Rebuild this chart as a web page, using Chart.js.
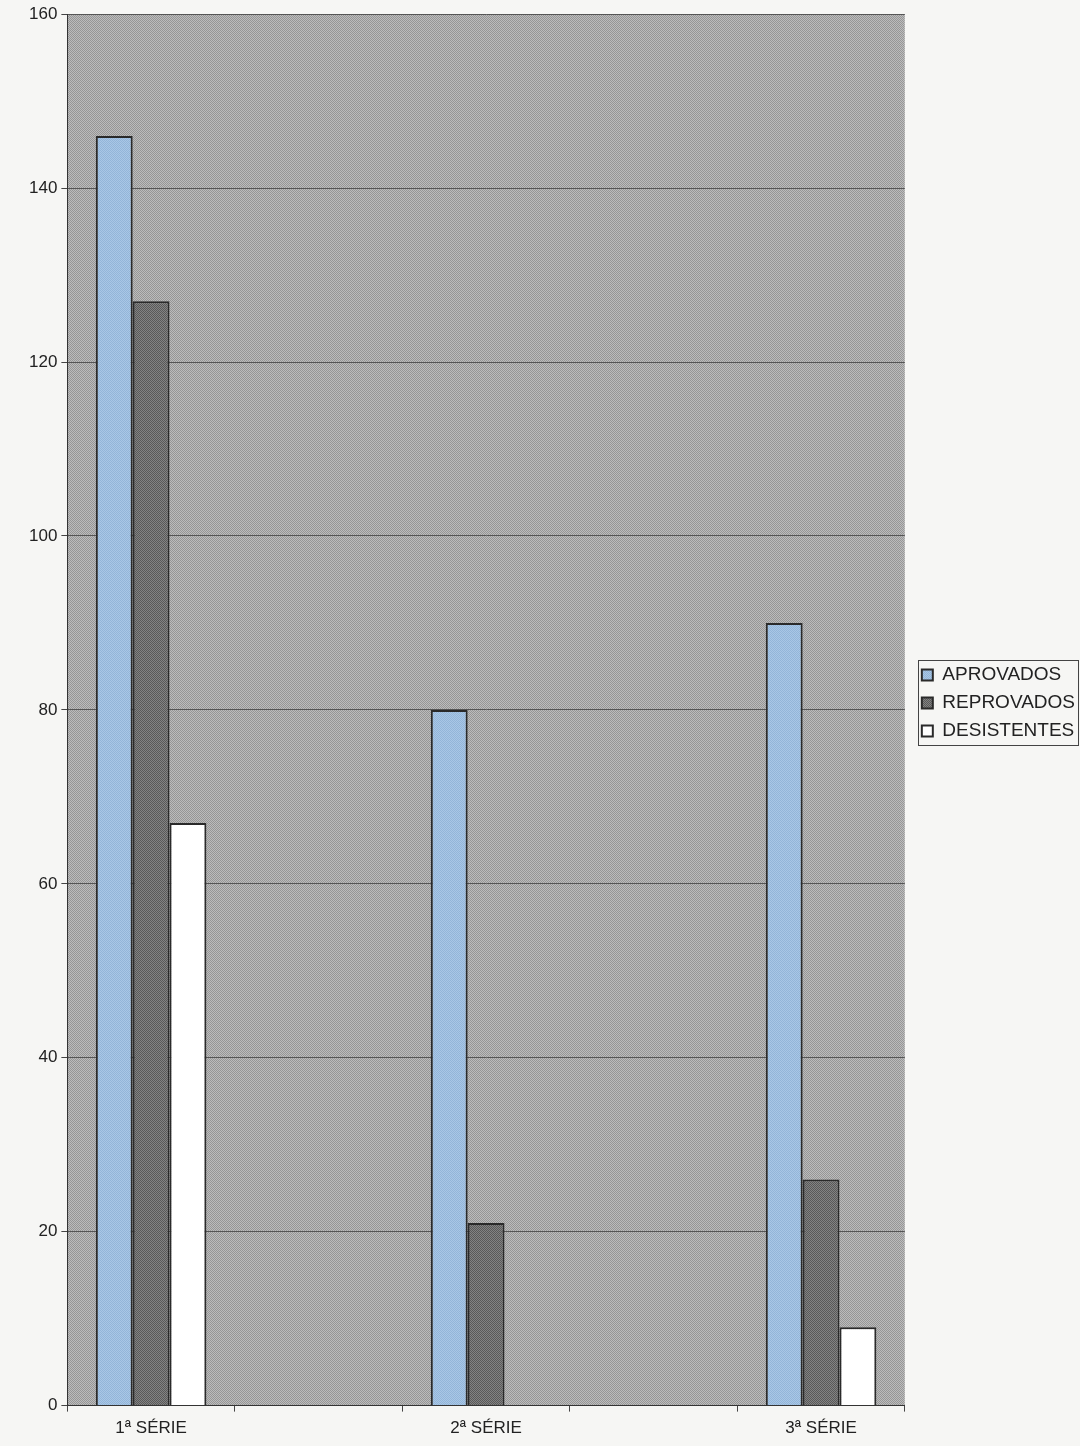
<!DOCTYPE html>
<html>
<head>
<meta charset="utf-8">
<script src="https://cdn.jsdelivr.net/npm/chart.js@4.4.1/dist/chart.umd.min.js"></script>
<style>
  html, body { margin: 0; padding: 0; background: #f6f6f4; }
  #wrap { width: 1080px; height: 1446px; }
</style>
</head>
<body>
<div id="wrap"><canvas id="serieChart" width="1080" height="1446"></canvas></div>
<script>
// categories (the empty ones are the gaps between the groups)
var categories = ['1ª SÉRIE', '', '2ª SÉRIE', '', '3ª SÉRIE'];
var aprovados = [146, null, 80, null, 90];
var reprovados = [127, null, 21, null, 26];
var desistentes = [67, null, 0, null, 9];
var yTicks = [0, 20, 40, 60, 80, 100, 120, 140, 160];

// small checker pattern, looks like the dithered print
function checker(a, b) {
    var c = document.createElement('canvas');
    c.width = 2; c.height = 2;
    var x = c.getContext('2d');
    x.fillStyle = a; x.fillRect(0, 0, 2, 2);
    x.fillStyle = b; x.fillRect(0, 0, 1, 1); x.fillRect(1, 1, 1, 1);
    return x.createPattern(c, 'repeat');
}

var ctx = document.getElementById('serieChart').getContext('2d');
var plotBg = checker('#bcbcbc', '#969696');
var blueFill = checker('#a9c7e6', '#93b5d8');
var grayFill = checker('#838383', '#595959');

// fill plot area before the grid is drawn
var plotBackground = {
    id: 'plotBackground',
    beforeDraw: function (chart) {
        var a = chart.chartArea;
        chart.ctx.save();
        chart.ctx.fillStyle = plotBg;
        chart.ctx.fillRect(a.left, a.top, a.right - a.left, a.bottom - a.top);
        chart.ctx.restore();
    }
};

// nudge legend a bit right and up, hit boxes get adjusted afterwards
var legendNudge = {
    id: 'legendNudge',
    afterLayout: function (chart) {
        var lg = chart.legend;
        lg.left += 8; lg.right += 8;
        lg.top -= 7; lg.bottom -= 7;
    }
};

// thin frame round the legend like the original
var legendFrame = {
    id: 'legendFrame',
    afterDraw: function (chart) {
        var lg = chart.legend;
        if (!lg || !lg.legendHitBoxes.length) return;
        var boxes = lg.legendHitBoxes;
        var left = Math.min.apply(null, boxes.map(function (b) { return b.left; })) - 4;
        var top = boxes[0].top - 5;
        var right = Math.max.apply(null, boxes.map(function (b) { return b.left + b.width; })) + 3;
        var bottom = boxes[boxes.length - 1].top + boxes[boxes.length - 1].height + 5;
        var c = chart.ctx;
        c.save();
        c.strokeStyle = '#444';
        c.lineWidth = 1;
        c.strokeRect(Math.round(left) + 0.5, Math.round(top) + 0.5, Math.round(right - left), Math.round(bottom - top));
        c.restore();
    }
};

var fontFamily = "Arial, 'Liberation Sans', sans-serif";

var myChart = new Chart(ctx, {
    type: 'bar',
    plugins: [plotBackground, legendNudge, legendFrame],
    data: {
        labels: categories,
        datasets: [{
            label: 'APROVADOS',
            data: aprovados,
            backgroundColor: blueFill,
            borderColor: '#2a2a2a',
            borderWidth: 2
        }, {
            label: 'REPROVADOS',
            data: reprovados,
            backgroundColor: grayFill,
            borderColor: '#2a2a2a',
            borderWidth: 2
        }, {
            label: 'DESISTENTES',
            data: desistentes,
            backgroundColor: '#ffffff',
            borderColor: '#2a2a2a',
            borderWidth: 2
        }]
    },
    options: {
        responsive: false,
        animation: false,
        devicePixelRatio: 1,
        layout: {
            padding: { left: 25, top: 10, right: 3, bottom: 0 }
        },
        datasets: {
            bar: {
                categoryPercentage: 0.66,
                barPercentage: 1.0
            }
        },
        scales: {
            x: {
                grid: {
                    drawOnChartArea: false,
                    drawTicks: true,
                    tickLength: 6,
                    tickColor: '#444'
                },
                border: { color: '#333', width: 1 },
                ticks: {
                    color: '#222',
                    font: { family: fontFamily, size: 17 },
                    maxRotation: 0,
                    autoSkip: false,
                    padding: 7
                }
            },
            y: {
                min: 0,
                max: 160,
                afterBuildTicks: function (axis) {
                    axis.ticks = yTicks.map(function (v) { return { value: v }; });
                },
                grid: {
                    color: '#555555',
                    lineWidth: 1,
                    tickLength: 6,
                    tickColor: '#444'
                },
                border: { color: '#333', width: 1 },
                ticks: {
                    color: '#222',
                    font: { family: fontFamily, size: 17 },
                    padding: 4
                }
            }
        },
        plugins: {
            legend: {
                display: true,
                position: 'right',
                align: 'center',
                fullSize: false,
                labels: {
                    boxWidth: 11,
                    boxHeight: 11,
                    padding: 9,
                    color: '#222',
                    font: { family: fontFamily, size: 19 },
                    useBorderRadius: false
                }
            },
            tooltip: { enabled: false }
        }
    }
});
</script>
</body>
</html>
